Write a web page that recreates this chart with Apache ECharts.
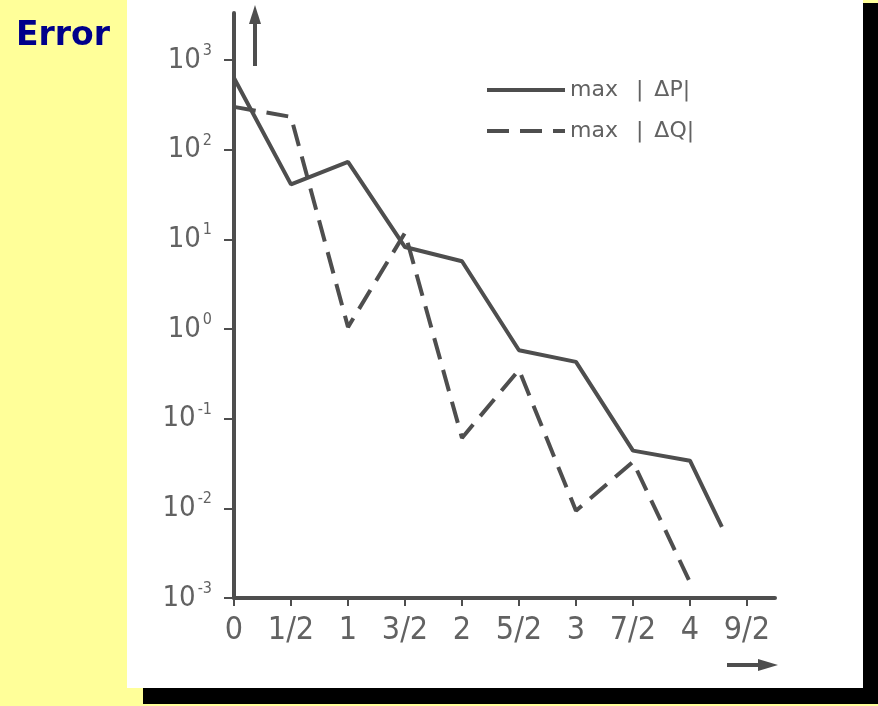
<!DOCTYPE html>
<html><head><meta charset="utf-8">
<script src="https://cdn.jsdelivr.net/npm/echarts@6/dist/echarts.min.js"></script>
<style>
html,body{margin:0;padding:0;width:878px;height:706px;background:#FFFF99;overflow:hidden}
#panel{position:absolute;left:127px;top:0;width:736px;height:688px;background:#fff}
#shR{position:absolute;left:863px;top:3px;width:15px;height:701px;background:#000}
#shB{position:absolute;left:143px;top:688px;width:735px;height:16px;background:#000}
#chart{position:absolute;left:0;top:0;width:878px;height:706px}
</style></head><body>
<div id="panel"></div><div id="shR"></div><div id="shB"></div>
<div id="chart"></div>
<script>
const xTicks = [0, 0.5, 1, 1.5, 2, 2.5, 3, 3.5, 4, 4.5];
const xTickLabels = ['0', '1/2', '1', '3/2', '2', '5/2', '3', '7/2', '4', '9/2'];
const yTicks = [0.001, 0.01, 0.1, 1, 10, 100, 1000];
const xP = [0, 0.5, 1, 1.5, 2, 2.5, 3, 3.5, 4, 4.28];
const valP = [630, 41, 73, 8.2, 5.7, 0.58, 0.43, 0.044, 0.034, 0.0062];
const xQ = [0, 0.5, 1, 1.5, 2, 2.5, 3, 3.5, 4];
const valQ = [300, 232, 1.05, 11.8, 0.061, 0.35, 0.0094, 0.033, 0.0015];
const seriesNames = ['max |ΔP|', 'max |ΔQ|'];

const INK = '#4e4e4e';
const TXT = '#626262';
const FONT = "'Liberation Sans Narrow','DejaVu Sans Condensed','Liberation Sans',sans-serif";
const LFONT = "'DejaVu Sans',sans-serif";

const chart = echarts.init(document.getElementById('chart'), null, {renderer: 'canvas'});
const option = {
  backgroundColor: 'transparent',
  animation: false,
  title: {
    text: 'Error', left: 11, top: 15,
    textStyle: {color: '#00008B', fontSize: 33, fontWeight: 'bold', fontFamily: "'DejaVu Sans',sans-serif"}
  },
  legend: {
    data: seriesNames, orient: 'vertical', left: 480, top: 74,
    itemWidth: 78, itemHeight: 14, itemGap: 19,
    itemStyle: {opacity: 0},
    lineStyle: {width: 4, color: INK},
    formatter: name => name.replace(' |', '\u2002 |').replace('|Δ', '|\u2002Δ'),
    textStyle: {fontSize: 22, color: TXT, fontFamily: LFONT, padding: [0, 0, 0, 0]}
  },
  grid: {left: 234, right: 103, top: 13, bottom: 108, containLabel: false},
  xAxis: {
    type: 'value', min: 0, max: 4.746,
    axisLine: {show: true, lineStyle: {color: INK, width: 4}},
    axisTick: {show: true, length: 8, inside: false, lineStyle: {color: INK, width: 2}, customValues: xTicks},
    axisLabel: {
      customValues: xTicks, margin: 17, color: TXT, fontSize: 32, fontFamily: FONT,
      formatter: v => { const i = xTicks.indexOf(v); return i >= 0 ? xTickLabels[i] : ''; }
    },
    splitLine: {show: false}
  },
  yAxis: {
    type: 'log', logBase: 10, min: 0.001, max: Math.pow(10, 3.524),
    axisLine: {show: true, onZero: false, lineStyle: {color: INK, width: 4}},
    axisTick: {show: true, length: 10, lineStyle: {color: INK, width: 2}, customValues: yTicks},
    axisLabel: {
      customValues: yTicks, margin: 22, color: TXT, fontFamily: FONT,
      formatter: v => '{b|10}{s|' + Math.round(Math.log10(v)) + '}',
      rich: {
        b: {fontSize: 29, color: TXT, fontFamily: FONT},
        s: {fontSize: 16, color: TXT, fontFamily: FONT, padding: [0, 0, 18, 2]}
      }
    },
    splitLine: {show: false}
  },
  series: [
    {
      name: seriesNames[0], type: 'line', symbol: 'none',
      data: xP.map((x, i) => [x, valP[i]]),
      lineStyle: {color: INK, width: 4, type: 'solid'}, itemStyle: {color: INK}
    },
    {
      name: seriesNames[1], type: 'line', symbol: 'none',
      data: xQ.map((x, i) => [x, valQ[i]]),
      lineStyle: {color: INK, width: 4, type: [22, 11]}, itemStyle: {color: INK}
    }
  ],
  graphic: [
    {type: 'line', shape: {x1: 255, y1: 66, x2: 255, y2: 20}, style: {stroke: INK, lineWidth: 4}},
    {type: 'polygon', shape: {points: [[249, 24], [255, 5], [261, 24]]}, style: {fill: INK}},
    {type: 'line', shape: {x1: 727, y1: 665, x2: 762, y2: 665}, style: {stroke: INK, lineWidth: 4}},
    {type: 'polygon', shape: {points: [[758, 659], [778, 665], [758, 671]]}, style: {fill: INK}}
  ]
};
chart.setOption(option);
</script>
</body></html>
